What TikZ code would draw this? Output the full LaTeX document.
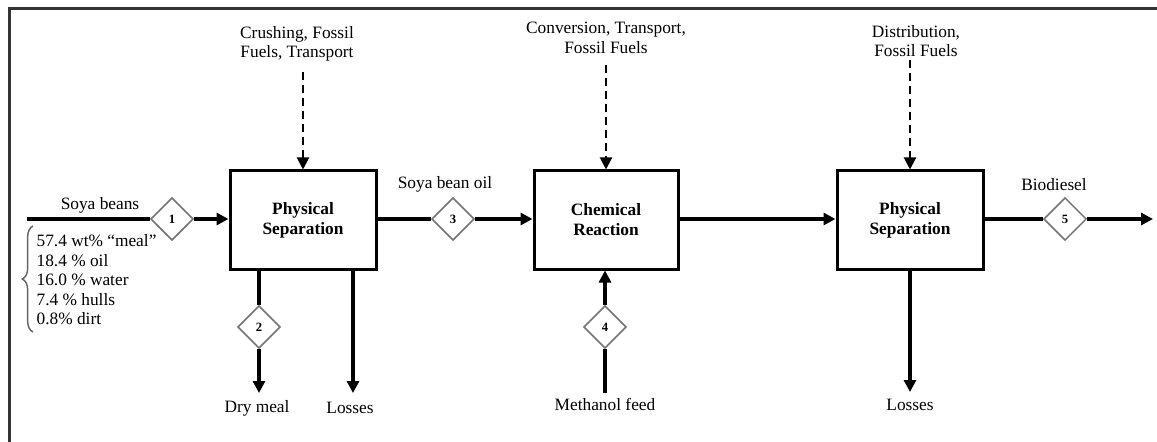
\documentclass[tikz,border=0pt]{standalone}
\usepackage{fontspec}
\setmainfont{Liberation Serif}
\usetikzlibrary{arrows.meta,shapes.geometric,decorations.pathreplacing}

\tikzset{
  txt/.style={font=\fontsize{13}{14.6}\selectfont, inner sep=1pt, align=center},
  procbox/.style={draw, line width=2.25pt, minimum width=109.5pt, minimum height=73.5pt,
    inner sep=2pt, align=center, font=\fontsize{13}{15}\selectfont\bfseries},
  tag/.style={diamond, draw=gray!90!black, line width=1.1pt, fill=white, inner sep=0pt,
    minimum width=32pt, minimum height=32pt, font=\fontsize{9.5}{10}\selectfont\bfseries},
  flow/.style={line width=2.3pt, -{Triangle[length=9pt,width=9pt]}},
  plainflow/.style={line width=2.3pt},
  burden/.style={line width=1.5pt, dash pattern=on 6pt off 3.75pt,
    -{Triangle[length=9pt,width=9pt]}},
  frame/.style={line width=2.25pt, draw=black!80},
}

\begin{document}
\begin{tikzpicture}[x=0.75pt,y=-0.75pt]
  \useasboundingbox (0,0) rectangle (1157,442);

  % outer frame (top and left edges)
  \draw[frame] (9.5,442) -- (9.5,8.5) -- (1157,8.5);

  % process blocks
  \node[procbox] (sep1) at (303,220) {Physical\\Separation};
  \node[procbox, minimum width=108pt] (react) at (606,220) {Chemical\\Reaction};
  \node[procbox] (sep2) at (910,220) {Physical\\Separation};

  % stream tags
  \node[tag] (t1) at (172,219) {1};
  \node[tag] (t2) at (259,327) {2};
  \node[tag] (t3) at (453,219) {3};
  \node[tag] (t4) at (605,327) {4};
  \node[tag] (t5) at (1065,219) {5};

  % stream labels
  \node[txt] (beans) at (100,205) {Soya beans};
  \node[txt, anchor=west, align=left] (comp) at (35,280)
    {57.4 wt\% “meal”\\18.4 \% oil\\16.0 \% water\\7.4 \% hulls\\0.8\% dirt};
  \node[txt] (oil) at (445,184) {Soya bean oil};
  \node[txt] (bio) at (1054,185) {Biodiesel};
  \node[txt] (meal) at (257,408) {Dry meal};
  \node[txt] (loss1) at (350,408) {Losses};
  \node[txt] (meoh) at (605,404) {Methanol feed};
  \node[txt] (loss2) at (910,405) {Losses};

  % burden labels
  \node[txt] (b1) at (297,44) {Crushing, Fossil\\Fuels, Transport};
  \node[txt] (b2) at (606,38) {Conversion, Transport,\\Fossil Fuels};
  \node[txt] (b3) at (916,41) {Distribution,\\Fossil Fuels};

  % free ends of the flows
  \coordinate (beansin) at (27,219);
  \coordinate (mealend) at (259,393);
  \coordinate (loss1end) at (353,393);
  \coordinate (meohin) at (605,393);
  \coordinate (loss2end) at (910,392);
  \coordinate (bioend) at (1153,219);
  \coordinate (b1s) at (303,72);
  \coordinate (b2s) at (606,65);
  \coordinate (b3s) at (910,60);

  % composition brace
  \draw[decorate, decoration={brace, amplitude=8pt}, draw=gray!80!black, line width=1.1pt]
    (33,332) -- (33,226);

  % main flows
  \draw[plainflow] (beansin) -- (t1.west);
  \draw[flow] (t1.east) -- (t1.east -| sep1.west);
  \draw[plainflow] (t3.west -| sep1.east) -- (t3.west);
  \draw[flow] (t3.east) -- (t3.east -| react.west);
  \draw[flow] (react.east |- t3.east) -- (sep2.west |- t3.east);
  \draw[plainflow] (t5.west -| sep2.east) -- (t5.west);
  \draw[flow] (t5.east) -- (bioend);

  % outputs of the first separation
  \draw[plainflow] (sep1.south -| t2) -- (t2.north);
  \draw[flow] (t2.south) -- (mealend);
  \draw[flow] (sep1.south -| loss1end) -- (loss1end);

  % methanol feed
  \draw[plainflow] (meohin) -- (t4.south);
  \draw[flow] (t4.north) -- (react.south -| t4);

  % losses of the second separation
  \draw[flow] (sep2.south -| loss2end) -- (loss2end);

  % burdens
  \draw[burden] (b1s) -- (sep1.north -| b1s);
  \draw[burden] (b2s) -- (react.north -| b2s);
  \draw[burden] (b3s) -- (sep2.north -| b3s);
\end{tikzpicture}
\end{document}
